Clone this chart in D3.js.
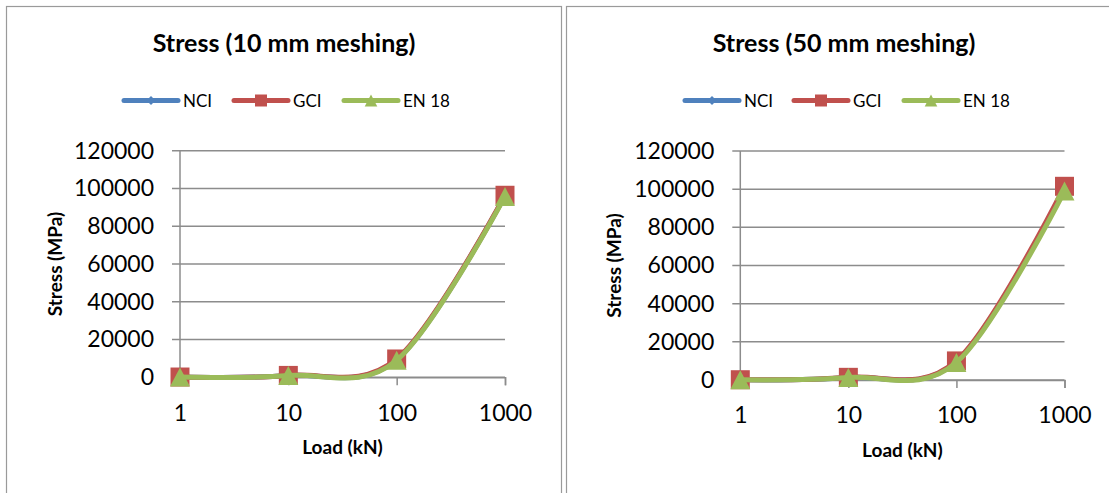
<!DOCTYPE html>
<html>
<head>
<meta charset="utf-8">
<script src="https://cdn.jsdelivr.net/npm/d3@7"></script>
<style>
  html, body { margin: 0; padding: 0; background: #fff; }
  svg { display: block; font-family: Lato, "Open Sans", sans-serif; }
</style>
</head>
<body>
<svg id="chart" width="1109" height="493"></svg>
<script>
// Load steps on the category axis (log-spaced, evenly drawn)
const loads = ["1", "10", "100", "1000"];
const seriesNames = ["NCI", "GCI", "EN 18"];
const yTicks = [0, 20000, 40000, 60000, 80000, 100000, 120000];

// Stress (MPa), 10 mm meshing
const nci10 = [120, 950, 9300, 96200];
const gci10 = [150, 1000, 9700, 96400];
const en10  = [100, 900, 9000, 95800];

// Stress (MPa), 50 mm meshing
const nci50 = [130, 1350, 9600, 100200];
const gci50 = [150, 1400, 10000, 101500];
const en50  = [120, 1300, 9200, 99000];

const colors = { "NCI": "#4f81bd", "GCI": "#c0504d", "EN 18": "#9bbb59" };
const markers = { "NCI": "diamond", "GCI": "square", "EN 18": "triangle" };

const svg = d3.select("#chart");

function markerPath(type, s) {
  const h = s / 2;
  if (type === "square") return `M${-h},${-h}H${h}V${h}H${-h}Z`;
  if (type === "triangle") return `M0,${-h}L${h * 1.05},${h}L${-h * 1.05},${h}Z`;
  return `M0,${-h}L${h},0L0,${h}L${-h},0Z`;
}

function drawPanel(cfg) {
  const g = svg.append("g");

  // panel frame
  g.append("rect")
    .attr("x", cfg.frame[0]).attr("y", cfg.frame[1])
    .attr("width", cfg.frame[2]).attr("height", cfg.frame[3])
    .attr("fill", "#fff").attr("stroke", "#9a9a9a").attr("stroke-width", 1.2);

  const x = d3.scalePoint().domain(loads).range([cfg.x0, cfg.x1]).padding(0);
  const y = d3.scaleLinear().domain([0, 120000]).range([cfg.y0, cfg.yTop]);

  // title
  g.append("text")
    .attr("x", cfg.titleX).attr("y", 52)
    .attr("text-anchor", "middle")
    .attr("font-weight", "bold").attr("font-size", 25)
    .text(cfg.title);

  // gridlines with left tick stubs
  g.append("g").selectAll("line").data(yTicks).join("line")
    .attr("x1", cfg.x0 - 8).attr("x2", cfg.x1)
    .attr("y1", d => y(d)).attr("y2", d => y(d))
    .attr("stroke", "#8c8c8c").attr("stroke-width", 1.5);

  // y axis labels
  const ya = g.append("g").attr("transform", `translate(${cfg.x0},0)`)
    .call(d3.axisLeft(y).tickValues(yTicks).tickSize(0).tickPadding(26).tickFormat(d3.format("d")));
  ya.select(".domain").remove();
  ya.selectAll("text").attr("font-size", 23).attr("font-family", "Lato").attr("fill", "#000");

  // y axis line
  g.append("line")
    .attr("x1", cfg.x0).attr("x2", cfg.x0)
    .attr("y1", cfg.yTop).attr("y2", cfg.y0)
    .attr("stroke", "#8c8c8c").attr("stroke-width", 1.5);

  // x axis with downward ticks
  const xa = g.append("g").attr("transform", `translate(0,${cfg.y0})`)
    .call(d3.axisBottom(x).tickSize(8).tickPadding(19));
  xa.select(".domain").attr("stroke", "#8c8c8c").attr("stroke-width", 1.5);
  xa.selectAll("line").attr("stroke", "#8c8c8c").attr("stroke-width", 1.5);
  xa.selectAll("text").attr("font-size", 23).attr("font-family", "Lato").attr("fill", "#000");

  // axis titles
  g.append("text")
    .attr("x", (cfg.x0 + cfg.x1) / 2).attr("y", cfg.y0 + 77)
    .attr("text-anchor", "middle")
    .attr("font-weight", "bold").attr("font-size", 19)
    .text("Load (kN)");
  g.append("text")
    .attr("transform", `translate(${cfg.yTitleX},${(cfg.y0 + cfg.yTop) / 2}) rotate(-90)`)
    .attr("text-anchor", "middle")
    .attr("font-weight", "bold").attr("font-size", 19)
    .text("Stress (MPa)");

  // series
  const line = d3.line()
    .x((d, i) => x(loads[i]))
    .y(d => y(d))
    .curve(d3.curveCardinal.tension(0));

  cfg.series.forEach((vals, k) => {
    const name = seriesNames[k];
    const sg = g.append("g");
    sg.append("path")
      .attr("d", line(vals))
      .attr("fill", "none")
      .attr("stroke", colors[name])
      .attr("stroke-width", 5)
      .attr("stroke-linecap", "round")
      .attr("stroke-linejoin", "round");
    sg.selectAll("path.m").data(vals).join("path")
      .attr("class", "m")
      .attr("transform", (d, i) => `translate(${x(loads[i])},${y(d)})`)
      .attr("d", markerPath(markers[name], name === "NCI" ? 12 : 19))
      .attr("fill", colors[name]);
  });

  // legend
  const lg = g.append("g").attr("transform", `translate(0,${cfg.legendY})`);
  seriesNames.forEach((name, k) => {
    const lx = cfg.legendX[k];
    lg.append("line")
      .attr("x1", lx).attr("x2", lx + 54)
      .attr("y1", 0).attr("y2", 0)
      .attr("stroke", colors[name]).attr("stroke-width", 5)
      .attr("stroke-linecap", "round");
    lg.append("path")
      .attr("transform", `translate(${lx + 27},0)`)
      .attr("d", markerPath(markers[name], name === "NCI" ? 9 : 12))
      .attr("fill", colors[name]);
    lg.append("text")
      .attr("x", lx + 59).attr("y", 6)
      .attr("font-size", 17)
      .text(name);
  });
}

drawPanel({
  frame: [6.5, 6.5, 555, 520],
  title: "Stress (10 mm meshing)",
  titleX: 284,
  x0: 180, x1: 505, y0: 377.3, yTop: 150.7,
  yTitleX: 62,
  legendY: 100.5,
  legendX: [124, 234, 344],
  series: [nci10, gci10, en10]
});

drawPanel({
  frame: [566.5, 6.5, 600, 520],
  title: "Stress (50 mm meshing)",
  titleX: 844,
  x0: 740.3, x1: 1064.5, y0: 380, yTop: 151,
  yTitleX: 621,
  legendY: 100.5,
  legendX: [685, 794, 904],
  series: [nci50, gci50, en50]
});
</script>
</body>
</html>
